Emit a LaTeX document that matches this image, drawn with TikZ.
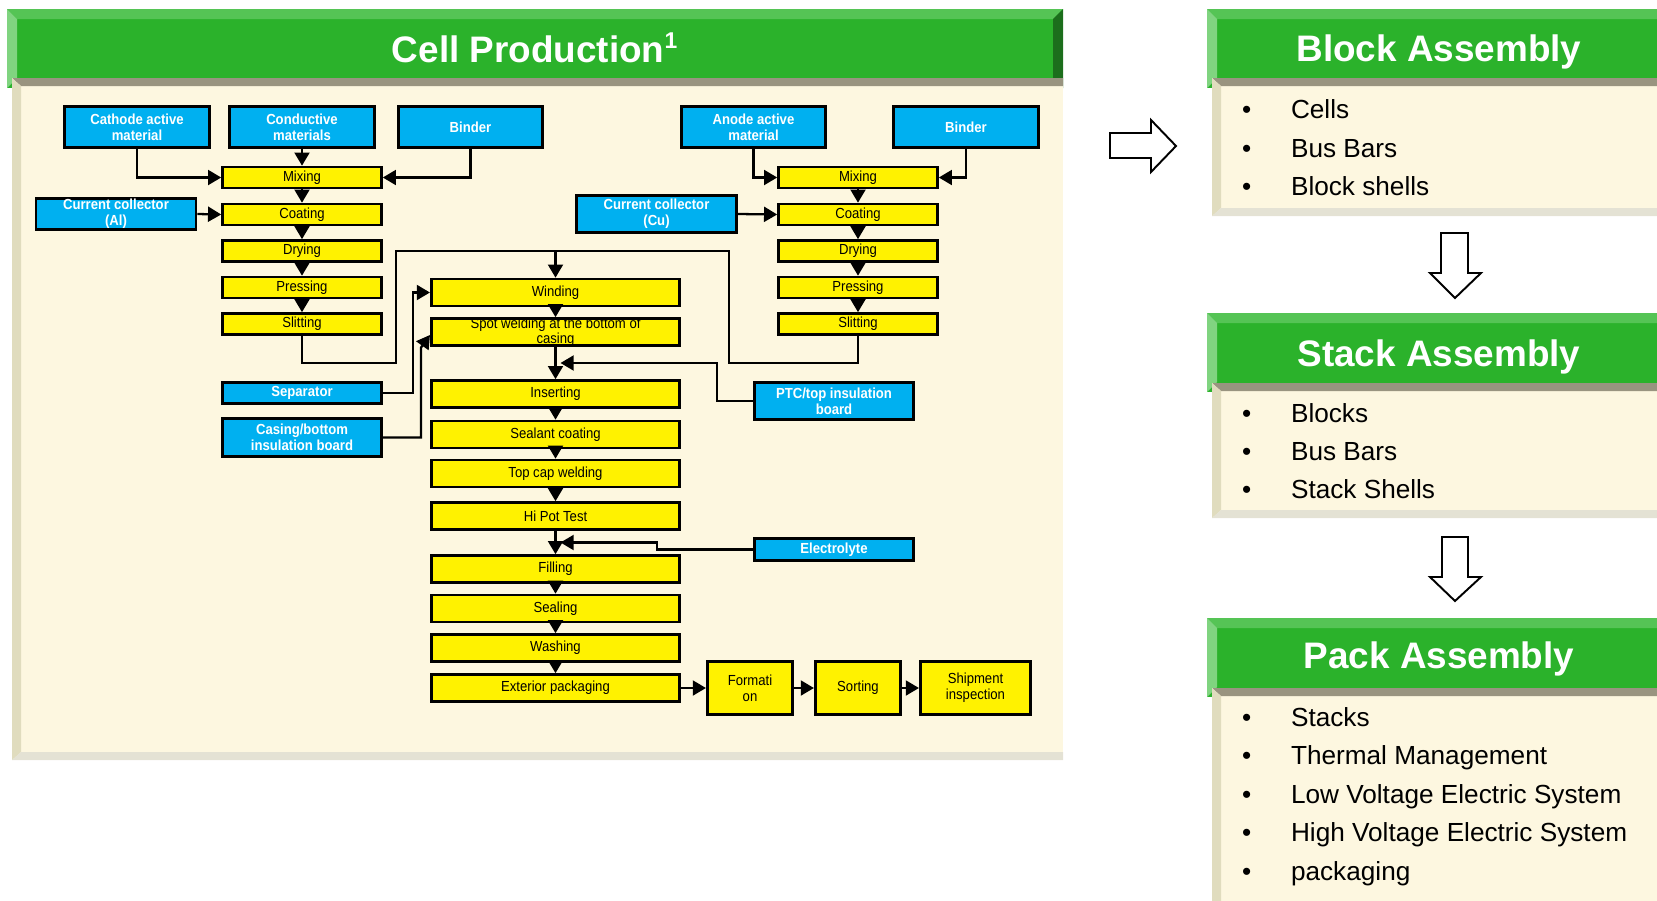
\documentclass[tikz,border=0pt]{standalone}
\usepackage{fontspec}
\setmainfont{Liberation Sans}
\newfontfamily\boxfont[FakeStretch=0.9]{Liberation Sans}
\usetikzlibrary{arrows.meta,calc}
\definecolor{barface}{RGB}{43,178,43}
\definecolor{bartop}{RGB}{85,196,85}
\definecolor{barleft}{RGB}{128,212,128}
\definecolor{barright}{RGB}{28,110,28}
\definecolor{bodycream}{RGB}{253,247,224}
\definecolor{bodytop}{RGB}{153,148,128}
\definecolor{bodyleft}{RGB}{224,220,190}
\definecolor{bodybottom}{RGB}{228,226,212}
\definecolor{feedblue}{RGB}{0,176,240}
\def\greenbar#1#2#3{%
  \fill[barface] (#1,#3) rectangle (#2,#3+79);
  \fill[bartop] (#1,#3) -- (#2,#3) -- (#2-10,#3+10) -- (#1+10,#3+10) -- cycle;
  \fill[barleft] (#1,#3) -- (#1+10,#3+10) -- (#1+10,#3+69) -- (#1,#3+79) -- cycle;
  \fill[barright] (#2,#3) -- (#2,#3+79) -- (#2-10,#3+69) -- (#2-10,#3+10) -- cycle;}
\def\creambody#1#2#3#4{%
  \fill[bodycream] (#1,#3) rectangle (#2,#4);
  \fill[bodytop] (#1,#3) -- (#2,#3) -- (#2,#3+8) -- (#1+9,#3+8) -- cycle;
  \fill[bodyleft] (#1,#3) -- (#1+9,#3+8) -- (#1+9,#4-8) -- (#1,#4) -- cycle;
  \fill[bodybottom] (#1,#4) -- (#1+9,#4-8) -- (#2,#4-8) -- (#2,#4) -- cycle;}
\def\bul{\makebox[27.8pt][l]{\textbullet}}

\begin{document}
\begin{tikzpicture}[x=0.02cm, y=-0.02cm,
	feed/.style={draw=black, line width=1.5pt, fill=feedblue, text=white, font=\boxfont\bfseries\fontsize{8.3}{9.3}\selectfont, align=center, inner sep=0pt, minimum width=3.19cm, minimum height=0.43cm},
	stage/.style={draw=black, line width=1.5pt, fill=yellow, font=\boxfont\fontsize{8.3}{9.3}\selectfont, align=center, inner sep=0pt, minimum width=3.18cm, minimum height=0.42cm},
	wide/.style={stage, minimum width=4.97cm, minimum height=0.54cm},
	arr/.style={line width=1.3pt, -{Triangle[width=8.5pt,length=7.5pt]}},
	wire/.style={line width=1.3pt},
	title/.style={anchor=base, text=white, font=\bfseries\fontsize{21}{25}\selectfont},
	item/.style={anchor=base west, font=\fontsize{14.9}{18}\selectfont}]
		\useasboundingbox (0,0) rectangle (1657,900);
		\clip (0,0) rectangle (1657,900);
		\greenbar{7}{1063}{9}
		\creambody{12}{1063}{78}{760}
		\greenbar{1207}{1667}{9}
		\creambody{1212}{1667}{78}{216}
		\greenbar{1207}{1667}{313}
		\creambody{1212}{1667}{383}{518}
		\greenbar{1207}{1667}{618}
		\creambody{1212}{1667}{688}{910}
		\node[title] (cellT) at (535,62) {Cell Production\textsuperscript{\fontsize{13}{13}\selectfont 1}};
		\node[title] (blockT) at (1439,61) {Block Assembly};
		\node[title] (stackT) at (1439,366) {Stack Assembly};
		\node[title] (packT) at (1439,668) {Pack Assembly};
		\node[item] (blk1) at (1236,118) {\bul Cells};
		\node[item] (blk2) at (1236,157) {\bul Bus Bars};
		\node[item] (blk3) at (1236,195) {\bul Block shells};
		\node[item] (stk1) at (1236,422) {\bul Blocks};
		\node[item] (stk2) at (1236,460) {\bul Bus Bars};
		\node[item] (stk3) at (1236,498) {\bul Stack Shells};
		\node[item] (pck1) at (1236,726) {\bul Stacks};
		\node[item] (pck2) at (1236,764.5) {\bul Thermal Management};
		\node[item] (pck3) at (1236,803) {\bul Low Voltage Electric System};
		\node[item] (pck4) at (1236,841.5) {\bul High Voltage Electric System};
		\node[item] (pck5) at (1236,880) {\bul packaging};
		\draw[line width=1.1pt, fill=white] (1110,133) -- (1151,133) -- (1151,120) -- (1176,146) -- (1151,172) -- (1151,158) -- (1110,158) -- cycle;
		\draw[line width=1.1pt, fill=white] (1441,233) -- (1468,233) -- (1468,273) -- (1481,273) -- (1455,298) -- (1430,273) -- (1441,273) -- cycle;
		\draw[line width=1.1pt, fill=white] (1442,537) -- (1468,537) -- (1468,577) -- (1481,577) -- (1455,601) -- (1430,577) -- (1442,577) -- cycle;

		\node[feed, minimum width=2.89cm, minimum height=0.83cm] (cath) at (137,127) {Cathode active\\material};
		\node[feed, minimum width=2.89cm, minimum height=0.83cm] (cond) at (302,127) {Conductive\\materials};
		\node[feed, minimum width=2.89cm, minimum height=0.83cm] (bindL) at (470.5,127) {Binder};
		\node[feed, minimum width=2.89cm, minimum height=0.83cm] (anode) at (753.5,127) {Anode active\\material};
		\node[feed, minimum width=2.89cm, minimum height=0.83cm] (bindR) at (966,127) {Binder};
		\node[feed, minimum width=3.2cm, minimum height=0.63cm] (al) at (116,214) {Current collector\\(Al)};
		\node[feed, minimum width=3.21cm, minimum height=0.75cm] (cu) at (656.5,214) {Current collector\\(Cu)};
		\node[feed] (sep) at (302,393) {Separator};
		\node[feed, minimum height=0.77cm] (case) at (302,437.5) {Casing/bottom\\insulation board};
		\node[feed, minimum height=0.75cm] (ptc) at (834,401) {PTC/top insulation\\board};
		\node[feed, minimum height=0.45cm] (elec) at (834,549.5) {Electrolyte};

		\node[stage] (mixL) at (302,177.5) {Mixing};
		\node[stage] (coatL) at (302,214.5) {Coating};
		\node[stage] (dryL) at (302,251) {Drying};
		\node[stage] (pressL) at (302,287.5) {Pressing};
		\node[stage] (slitL) at (302,324) {Slitting};
		\node[stage] (mixR) at (858,177.5) {Mixing};
		\node[stage] (coatR) at (858,214.5) {Coating};
		\node[stage] (dryR) at (858,251) {Drying};
		\node[stage] (pressR) at (858,287.5) {Pressing};
		\node[stage] (slitR) at (858,324) {Slitting};

		\node[wide] (wind) at (555.5,292.5) {Winding};
		\node[wide] (spot) at (555.5,332) {};
		\node[font=\boxfont\fontsize{8.3}{8.5}\selectfont, align=center, inner sep=0pt] (spotT) at (555.5,332.5) {Spot welding at the bottom of\\casing};
		\node[wide] (ins) at (555.5,394) {Inserting};
		\node[wide] (seal) at (555.5,434.5) {Sealant coating};
		\node[wide] (cap) at (555.5,473.5) {Top cap welding};
		\node[wide] (hipot) at (555.5,516) {Hi Pot Test};
		\node[wide] (fill) at (555.5,569) {Filling};
		\node[wide] (sealing) at (555.5,608.5) {Sealing};
		\node[wide] (wash) at (555.5,648) {Washing};
		\node[wide] (ext) at (555.5,688) {Exterior packaging};
		\node[stage, minimum width=1.71cm, minimum height=1.07cm] (form) at (750,688) {Formati\\on};
		\node[stage, minimum width=1.71cm, minimum height=1.07cm] (sort) at (858,688) {Sorting};
		\node[stage, minimum width=2.21cm, minimum height=1.07cm] (ship) at (975.5,688) {Shipment\\inspection};

		\draw[arr] (cath.south) |- (mixL.west);
		\draw[arr] (cond.south) -- (mixL.north);
		\draw[arr] (bindL.south) |- (mixL.east);
		\draw[arr] (al.east) -- (coatL.west);
		\draw[arr] (mixL.south) -- (coatL.north);
		\draw[arr] (coatL.south) -- (dryL.north);
		\draw[arr] (dryL.south) -- (pressL.north);
		\draw[arr] (pressL.south) -- (slitL.north);
		\draw[arr] (anode.south) |- (mixR.west);
		\draw[arr] (bindR.south) |- (mixR.east);
		\draw[arr] (cu.east) -- (coatR.west);
		\draw[arr] (mixR.south) -- (coatR.north);
		\draw[arr] (coatR.south) -- (dryR.north);
		\draw[arr] (dryR.south) -- (pressR.north);
		\draw[arr] (pressR.south) -- (slitR.north);

		\coordinate (topL) at (396,251);
		\coordinate (topR) at (729,251);
		\draw[wire] (slitL.south) -- ++(0,27) -| (topL) -- (topR) |- ($(slitR.south)+(0,27)$) -- (slitR.south);
		\draw[arr] (topL -| wind.north) -- (wind.north);
		\draw[arr] (sep.east) -- ++(30,0) |- (wind.west);
		\draw[arr] (case.east) -- ++(38,0) -- ++(0,-90) -- ($(spot.west)+(0,3)$);
		\draw[arr] (wind.south) -- (spot.north);
		\draw[arr] (spot.south) -- (ins.north);
		\coordinate (ptcin) at ($(spot.south)!0.5!(ins.north)+(5,0)$);
		\draw[arr] (ptc.west) -- ++(-36,0) |- (ptcin);
		\draw[arr] (ins.south) -- (seal.north);
		\draw[arr] (seal.south) -- (cap.north);
		\draw[arr] (cap.south) -- (hipot.north);
		\draw[arr] (hipot.south) -- (fill.north);
		\coordinate (elecin) at ($(hipot.south)!0.5!(fill.north)+(5,0)$);
		\draw[arr] (elec.west) -- ++(-96,0) |- (elecin);
		\draw[arr] (fill.south) -- (sealing.north);
		\draw[arr] (sealing.south) -- (wash.north);
		\draw[arr] (wash.south) -- (ext.north);
		\draw[arr] (ext.east) -- (form.west);
		\draw[arr] (form.east) -- (sort.west);
		\draw[arr] (sort.east) -- (ship.west);
\end{tikzpicture}
\end{document}
